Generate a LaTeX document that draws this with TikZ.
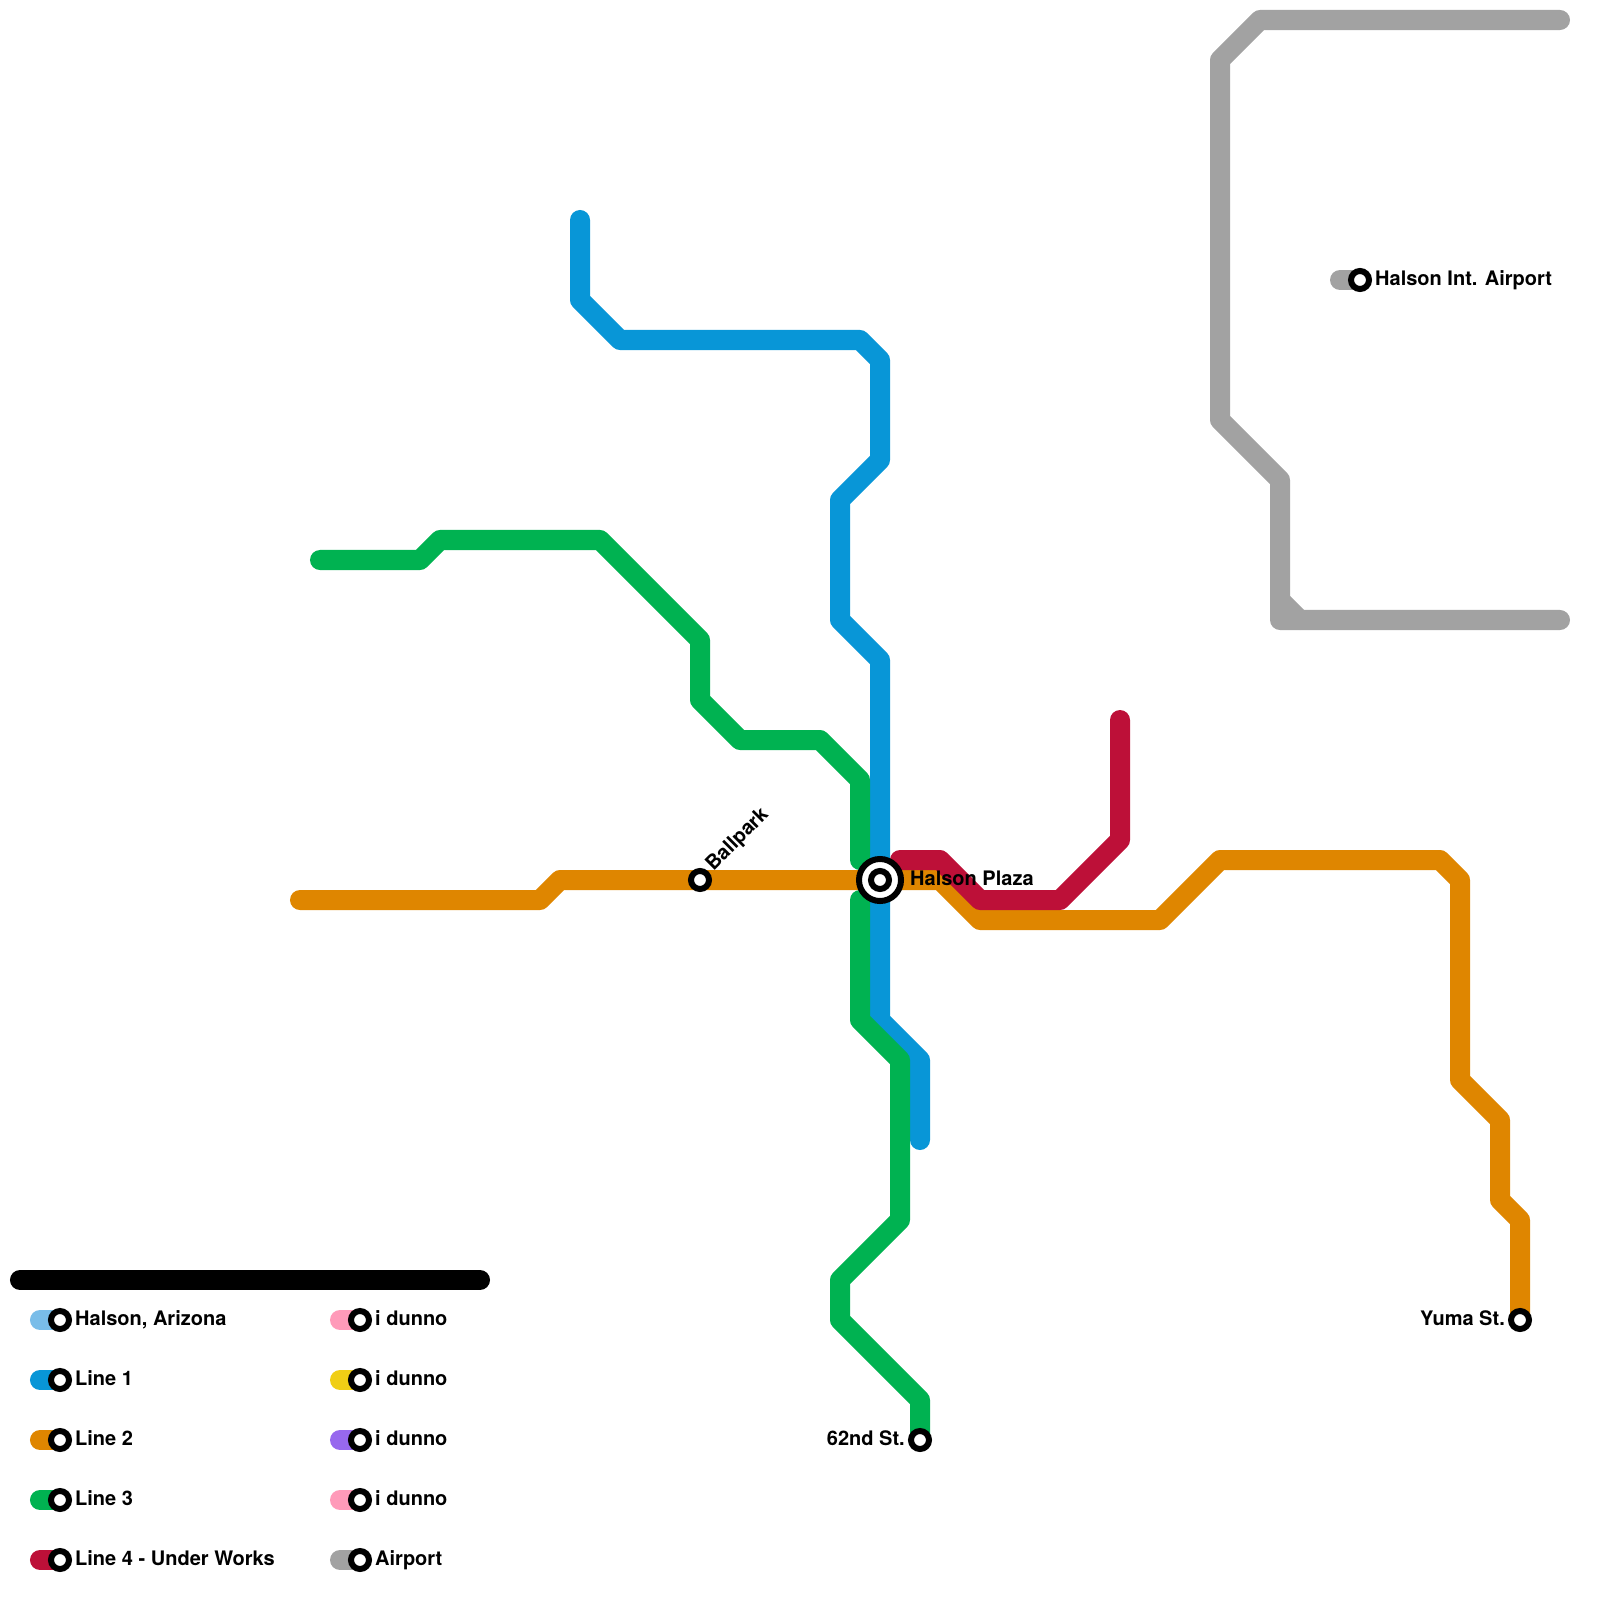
\documentclass[tikz,border=0pt]{standalone}
\usepackage{fontspec}
\setmainfont{TeX Gyre Heros}
\usepackage{xcolor}
\usetikzlibrary{backgrounds}
\definecolor{metroblue}{HTML}{0896D7}
\definecolor{metroorange}{HTML}{DF8600}
\definecolor{metrogreen}{HTML}{00B251}
\definecolor{metrored}{HTML}{BD1038}
\definecolor{metrogray}{HTML}{A2A2A2}
\definecolor{metrosky}{HTML}{79BDE9}
\definecolor{metropink}{HTML}{FF9AB9}
\definecolor{metroyellow}{HTML}{F0CE15}
\definecolor{metropurple}{HTML}{9768EE}

\begin{document}
\begin{tikzpicture}[
    x=0.01cm, y=-0.01cm,
    metroline/.style={line width=0.2cm, line cap=round, line join=round},
    stop/.style={circle, draw=black, fill=white, line width=0.06cm, minimum size=0.18cm, inner sep=0pt},
    hub/.style={stop, minimum size=0.42cm},
    stoplabel/.style={anchor=base west, inner sep=0pt, font=\fontsize{5.69}{7}\selectfont\bfseries},
    stoplabelleft/.style={stoplabel, anchor=base east}
]
\useasboundingbox (0,0) rectangle (1600,1600);

% stations
\node[hub] (plaza) at (880,880) {};
\node[stop] (plazacore) at (plaza.center) {};
\node[stop] (ballpark) at (700,880) {};
\node[stop] (airport) at (1360,280) {};
\node[stop] (yuma) at (1520,1320) {};
\node[stop] (nd62) at (920,1440) {};

\node[stoplabel] (plazatext) at ([shift={(29.5,5.5)}]plaza.center) {Halson Plaza};
\node[stoplabel, rotate=45] (ballparktext) at ([shift={(13,-8)}]ballpark.center) {Ballpark};
\node[stoplabel] (airporttext) at ([shift={(14.5,5.5)}]airport.center) {Halson Int. Airport};
\node[stoplabelleft] (yumatext) at ([shift={(-14.5,5.5)}]yuma.center) {Yuma St.};
\node[stoplabelleft] (nd62text) at ([shift={(-14.5,5.5)}]nd62.center) {62nd St.};

% legend
\node[stop] (key1) at (60,1320) {};
\node[stop] (key2) at (60,1380) {};
\node[stop] (key3) at (60,1440) {};
\node[stop] (key4) at (60,1500) {};
\node[stop] (key5) at (60,1560) {};
\node[stop] (key6) at (360,1320) {};
\node[stop] (key7) at (360,1380) {};
\node[stop] (key8) at (360,1440) {};
\node[stop] (key9) at (360,1500) {};
\node[stop] (key10) at (360,1560) {};

\node[stoplabel] (text1) at ([shift={(14.5,5.5)}]key1.center) {Halson, Arizona};
\node[stoplabel] (text2) at ([shift={(14.5,5.5)}]key2.center) {Line 1};
\node[stoplabel] (text3) at ([shift={(14.5,5.5)}]key3.center) {Line 2};
\node[stoplabel] (text4) at ([shift={(14.5,5.5)}]key4.center) {Line 3};
\node[stoplabel] (text5) at ([shift={(14.5,5.5)}]key5.center) {Line 4 - Under Works};
\node[stoplabel] (text6) at ([shift={(14.5,5.5)}]key6.center) {i dunno};
\node[stoplabel] (text7) at ([shift={(14.5,5.5)}]key7.center) {i dunno};
\node[stoplabel] (text8) at ([shift={(14.5,5.5)}]key8.center) {i dunno};
\node[stoplabel] (text9) at ([shift={(14.5,5.5)}]key9.center) {i dunno};
\node[stoplabel] (text10) at ([shift={(14.5,5.5)}]key10.center) {Airport};

\begin{scope}[on background layer]
% lines
\draw[metroline, metroblue] (580,220) -- (580,300) -- (620,340) -- (860,340) -- (880,360) -- (880,460) -- (840,500) -- (840,620) -- (880,660) -- (880,1020) -- (920,1060) -- (920,1140);
\draw[metroline, metroorange] (300,900) -- (540,900) -- (560,880) -- (ballpark.center) -- (plaza.center) -- (940,880) -- (980,920) -- (1160,920) -- (1220,860) -- (1440,860) -- (1460,880) -- (1460,1080) -- (1500,1120) -- (1500,1200) -- (1520,1220) -- (yuma.center);
\draw[metroline, metrogreen] (320,560) -- (420,560) -- (440,540) -- (600,540) -- (700,640) -- (700,700) -- (740,740) -- (820,740) -- (860,780) -- (860,860);
\draw[metroline, metrogreen] (860,900) -- (860,1020) -- (900,1060) -- (900,1220) -- (840,1280) -- (840,1320) -- (920,1400) -- (nd62.center);
\draw[metroline, metrored] (900,860) -- (940,860) -- (980,900) -- (1060,900) -- (1120,840) -- (1120,720);
\draw[metroline, metrogray] (1560,20) -- (1260,20) -- (1220,60) -- (1220,420) -- (1280,480) -- (1280,620) -- (1560,620);
\draw[metroline, metrogray] (1280,600) -- (1300,620);
\draw[metroline, metrogray] (airport.center) -- ++(-20,0);
\draw[metroline, black] (20,1280) -- (480,1280);

\draw[metroline, metrosky] (key1.center) -- ++(-20,0);
\draw[metroline, metroblue] (key2.center) -- ++(-20,0);
\draw[metroline, metroorange] (key3.center) -- ++(-20,0);
\draw[metroline, metrogreen] (key4.center) -- ++(-20,0);
\draw[metroline, metrored] (key5.center) -- ++(-20,0);
\draw[metroline, metropink] (key6.center) -- ++(-20,0);
\draw[metroline, metroyellow] (key7.center) -- ++(-20,0);
\draw[metroline, metropurple] (key8.center) -- ++(-20,0);
\draw[metroline, metropink] (key9.center) -- ++(-20,0);
\draw[metroline, metrogray] (key10.center) -- ++(-20,0);
\end{scope}
\end{tikzpicture}
\end{document}
